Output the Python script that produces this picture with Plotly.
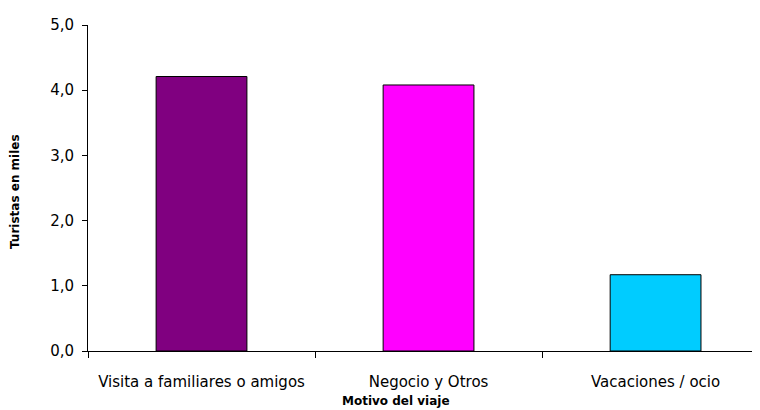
import plotly.graph_objects as go

categories = ["Visita a familiares o amigos", "Negocio y Otros", "Vacaciones / ocio"]
values = [4.21, 4.08, 1.17]
colors = ["#800080", "#FF00FF", "#00CCFF"]
y_ticks = [0, 1, 2, 3, 4, 5]
y_tick_labels = ["0,0", "1,0", "2,0", "3,0", "4,0", "5,0"]

fig = go.Figure()
fig.add_trace(go.Bar(
    x=categories, y=values,
    marker=dict(color=colors, line=dict(color="#000000", width=1)),
    width=0.4,
))

font_family = "DejaVu Sans"
# page body adds 8px offset; plot area target: x 88..760, y 25..351
fig.update_layout(
    width=752, height=402,
    margin=dict(l=80, r=0, t=17, b=59),
    paper_bgcolor="white", plot_bgcolor="white",
    showlegend=False,
    font=dict(family=font_family, color="#000000"),
    xaxis=dict(
        type="category",
        range=[-0.5, 2.46],
        showline=True, linecolor="#000000", linewidth=1,
        ticks="outside", tickson="boundaries", ticklen=6, tickcolor="#000000",
        tickfont=dict(size=15, family=font_family),
        ticklabelstandoff=17,
        showgrid=False, zeroline=False,
    ),
    yaxis=dict(
        range=[0, 5],
        tickvals=y_ticks, ticktext=y_tick_labels,
        showline=True, linecolor="#000000", linewidth=1,
        ticks="outside", ticklen=5, tickcolor="#000000",
        tickfont=dict(size=15, family=font_family),
        ticklabelstandoff=5,
        showgrid=False, zeroline=False,
    ),
    annotations=[
        dict(text="<b>Motivo del viaje</b>", x=(396 - 88) / 672, y=-(401 - 351) / 326,
             xref="paper", yref="paper", xanchor="center", yanchor="middle",
             showarrow=False, font=dict(size=12, family=font_family)),
        dict(text="<b>Turistas en miles</b>", x=-(88 - 15) / 672, y=(351 - 192) / 326,
             xref="paper", yref="paper", xanchor="center", yanchor="middle", textangle=-90,
             showarrow=False, font=dict(size=12, family=font_family)),
    ],
)

fig.write_html("out.html")
